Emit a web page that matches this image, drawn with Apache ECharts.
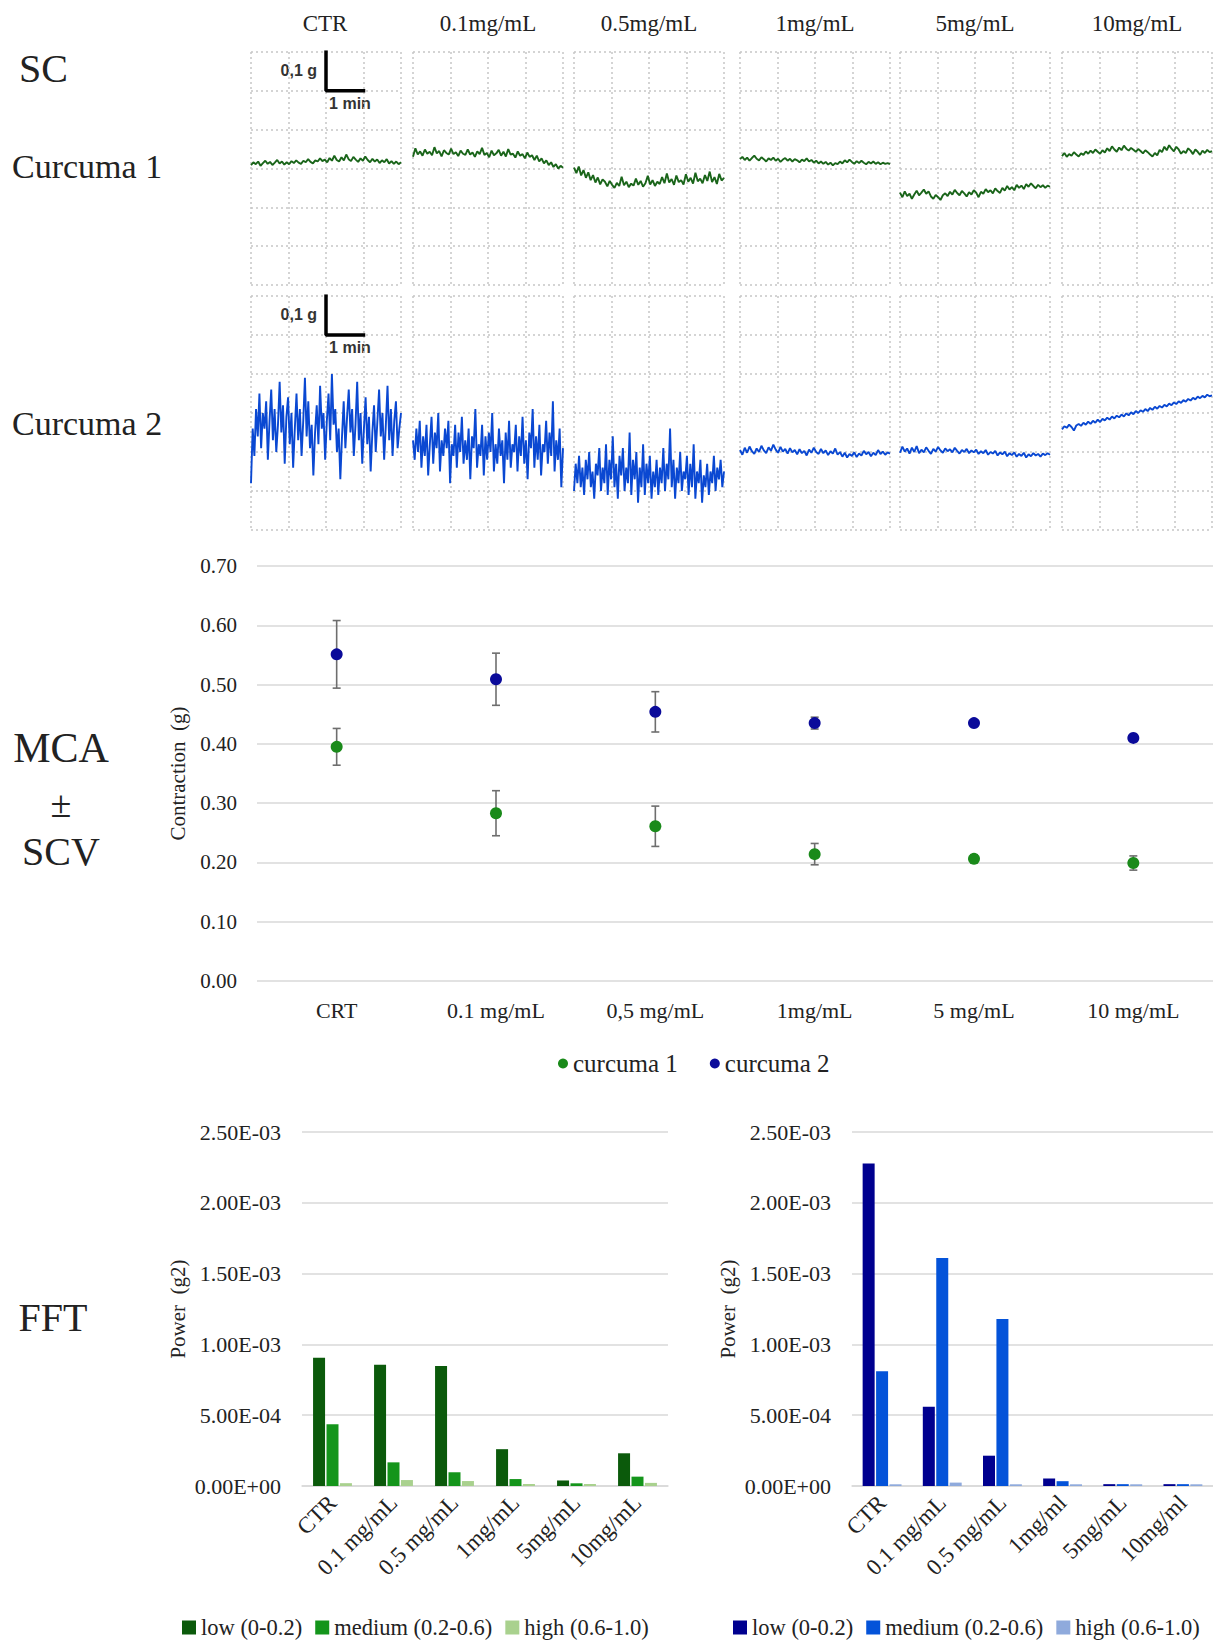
<!DOCTYPE html>
<html>
<head>
<meta charset="utf-8">
<script src="https://cdn.jsdelivr.net/npm/echarts@6/dist/echarts.min.js"></script>
<style>
  html, body { margin: 0; padding: 0; background: #fff; }
  .layer { position: absolute; left: 0; top: 0; width: 1213px; height: 1641px; }
</style>
</head>
<body>
<div id="main" class="layer"></div>
<div id="fftLeft" class="layer"></div>
<div id="fftRight" class="layer"></div>
<script>
// ---- data ----
const doses = ['CTR', '0.1mg/mL', '0.5mg/mL', '1mg/mL', '5mg/mL', '10mg/mL']
const scatterCats = ['CRT', '0.1 mg/mL', '0,5 mg/mL', '1mg/mL', '5 mg/mL', '10 mg/mL']
const fftCatsLeft = ['CTR', '0.1 mg/mL', '0.5 mg/mL', '1mg/mL', '5mg/mL', '10mg/mL']
const fftCatsRight = ['CTR', '0.1 mg/mL', '0.5 mg/mL', '1mg/ml', '5mg/mL', '10mg/ml']
const bandNames = ['low (0-0.2)', 'medium (0.2-0.6)', 'high (0.6-1.0)']

// tension traces (g) over 4 min per dose, curcuma 1
const curcuma1Traces = [
  [0.309,0.316,0.311,0.318,0.307,0.314,0.320,0.312,0.317,0.309,0.315,0.322,0.313,0.318,0.310,0.316,0.311,0.319,0.314,0.321,0.315,0.312,0.320,0.316,0.324,0.317,0.313,0.321,0.318,0.326,0.319,0.323,0.316,0.327,0.320,0.333,0.322,0.318,0.329,0.321,0.336,0.324,0.319,0.330,0.323,0.317,0.326,0.320,0.331,0.322,0.316,0.325,0.318,0.323,0.314,0.321,0.316,0.324,0.313,0.319,0.312,0.318,0.311,0.316],
  [0.330,0.352,0.336,0.344,0.333,0.349,0.338,0.343,0.334,0.355,0.339,0.345,0.331,0.347,0.340,0.336,0.351,0.337,0.342,0.332,0.346,0.338,0.335,0.349,0.336,0.341,0.330,0.344,0.337,0.353,0.335,0.340,0.329,0.346,0.334,0.339,0.348,0.333,0.343,0.331,0.350,0.336,0.338,0.328,0.344,0.333,0.337,0.326,0.341,0.330,0.334,0.322,0.333,0.318,0.326,0.313,0.321,0.309,0.316,0.304,0.311,0.300,0.307,0.302],
  [0.302,0.288,0.305,0.282,0.296,0.276,0.290,0.270,0.283,0.264,0.277,0.259,0.272,0.266,0.254,0.268,0.258,0.250,0.263,0.255,0.279,0.257,0.266,0.252,0.261,0.256,0.274,0.258,0.268,0.253,0.262,0.281,0.259,0.270,0.255,0.266,0.260,0.278,0.262,0.287,0.264,0.273,0.258,0.282,0.265,0.270,0.259,0.285,0.266,0.276,0.261,0.289,0.267,0.274,0.262,0.283,0.268,0.292,0.265,0.278,0.260,0.286,0.269,0.276],
  [0.324,0.330,0.322,0.328,0.320,0.327,0.333,0.325,0.321,0.329,0.324,0.318,0.326,0.322,0.328,0.320,0.325,0.317,0.323,0.327,0.320,0.325,0.318,0.324,0.321,0.316,0.323,0.319,0.326,0.318,0.322,0.315,0.320,0.313,0.318,0.312,0.317,0.310,0.315,0.308,0.314,0.311,0.318,0.313,0.321,0.316,0.323,0.317,0.312,0.319,0.314,0.320,0.315,0.311,0.317,0.313,0.318,0.312,0.316,0.311,0.315,0.312,0.314,0.311],
  [0.238,0.226,0.241,0.229,0.235,0.222,0.233,0.243,0.231,0.238,0.246,0.235,0.241,0.228,0.222,0.232,0.226,0.219,0.231,0.236,0.229,0.240,0.233,0.245,0.237,0.231,0.242,0.236,0.228,0.239,0.233,0.244,0.238,0.226,0.240,0.235,0.247,0.239,0.244,0.236,0.249,0.242,0.237,0.250,0.243,0.255,0.246,0.252,0.244,0.258,0.250,0.256,0.247,0.260,0.253,0.262,0.255,0.249,0.258,0.252,0.257,0.250,0.256,0.253],
  [0.332,0.340,0.330,0.337,0.333,0.342,0.336,0.331,0.339,0.335,0.344,0.338,0.346,0.340,0.349,0.343,0.338,0.347,0.341,0.352,0.345,0.357,0.349,0.343,0.354,0.347,0.359,0.351,0.346,0.353,0.348,0.343,0.350,0.345,0.339,0.347,0.342,0.336,0.331,0.340,0.334,0.348,0.342,0.356,0.347,0.360,0.351,0.344,0.356,0.349,0.338,0.345,0.340,0.352,0.346,0.337,0.349,0.343,0.335,0.346,0.340,0.348,0.342,0.345]
]
// curcuma 2
const curcuma2Traces = [
  [0.12,0.26,0.19,0.31,0.24,0.35,0.21,0.30,0.26,0.33,0.18,0.28,0.36,0.23,0.31,0.20,0.27,0.38,0.25,0.32,0.17,0.29,0.34,0.22,0.30,0.16,0.26,0.35,0.23,0.31,0.19,0.28,0.39,0.24,0.33,0.21,0.27,0.14,0.25,0.32,0.22,0.37,0.26,0.30,0.18,0.28,0.35,0.23,0.40,0.27,0.31,0.20,0.26,0.13,0.24,0.33,0.21,0.29,0.36,0.25,0.31,0.19,0.27,0.38,0.23,0.30,0.17,0.26,0.34,0.22,0.29,0.15,0.25,0.32,0.20,0.28,0.36,0.24,0.30,0.18,0.27,0.37,0.23,0.31,0.19,0.28,0.33,0.21,0.26,0.30],
  [0.23,0.18,0.26,0.20,0.28,0.16,0.24,0.19,0.27,0.14,0.22,0.29,0.17,0.25,0.21,0.30,0.15,0.23,0.19,0.26,0.21,0.28,0.12,0.22,0.19,0.27,0.16,0.25,0.20,0.29,0.17,0.23,0.18,0.26,0.13,0.24,0.21,0.31,0.16,0.22,0.19,0.27,0.14,0.24,0.18,0.25,0.20,0.30,0.15,0.22,0.17,0.26,0.19,0.23,0.12,0.25,0.18,0.28,0.16,0.22,0.20,0.27,0.15,0.24,0.19,0.29,0.17,0.23,0.13,0.25,0.21,0.31,0.16,0.24,0.18,0.27,0.14,0.22,0.20,0.28,0.17,0.25,0.19,0.33,0.15,0.23,0.18,0.26,0.11,0.21],
  [0.10,0.17,0.12,0.19,0.11,0.16,0.09,0.18,0.13,0.20,0.11,0.15,0.08,0.17,0.14,0.21,0.10,0.16,0.12,0.22,0.09,0.18,0.13,0.24,0.11,0.17,0.08,0.19,0.14,0.21,0.10,0.16,0.12,0.25,0.09,0.18,0.13,0.20,0.07,0.16,0.11,0.22,0.09,0.17,0.12,0.19,0.08,0.15,0.11,0.18,0.09,0.16,0.12,0.21,0.10,0.17,0.13,0.26,0.11,0.18,0.08,0.16,0.12,0.20,0.10,0.15,0.13,0.19,0.09,0.17,0.11,0.22,0.08,0.15,0.12,0.18,0.07,0.14,0.11,0.17,0.09,0.15,0.12,0.19,0.10,0.16,0.13,0.18,0.11,0.15],
  [0.205,0.193,0.211,0.198,0.214,0.202,0.195,0.209,0.200,0.216,0.204,0.197,0.212,0.203,0.219,0.206,0.198,0.213,0.201,0.208,0.196,0.210,0.199,0.205,0.194,0.207,0.197,0.203,0.191,0.206,0.198,0.211,0.200,0.195,0.208,0.197,0.204,0.192,0.202,0.196,0.209,0.193,0.200,0.188,0.198,0.186,0.195,0.190,0.199,0.187,0.196,0.191,0.203,0.194,0.200,0.189,0.198,0.192,0.205,0.195,0.201,0.193,0.199,0.196],
  [0.198,0.214,0.201,0.209,0.196,0.211,0.200,0.215,0.197,0.206,0.199,0.212,0.203,0.195,0.208,0.201,0.213,0.204,0.198,0.209,0.202,0.207,0.199,0.211,0.203,0.196,0.205,0.200,0.208,0.197,0.204,0.199,0.206,0.195,0.202,0.197,0.205,0.193,0.200,0.196,0.203,0.191,0.199,0.194,0.201,0.189,0.197,0.192,0.199,0.188,0.195,0.190,0.198,0.186,0.194,0.189,0.197,0.191,0.195,0.188,0.196,0.192,0.197,0.193],
  [0.258,0.266,0.262,0.270,0.264,0.255,0.268,0.272,0.267,0.275,0.270,0.278,0.272,0.280,0.275,0.283,0.277,0.285,0.281,0.288,0.283,0.291,0.286,0.293,0.289,0.296,0.291,0.299,0.294,0.302,0.297,0.305,0.300,0.307,0.303,0.310,0.305,0.313,0.308,0.316,0.311,0.318,0.314,0.321,0.317,0.324,0.320,0.327,0.323,0.330,0.326,0.333,0.329,0.336,0.332,0.339,0.335,0.342,0.338,0.344,0.340,0.347,0.343,0.345]
]
const scaleBar = [[2, 0.6], [2, 0.5], [3, 0.5]]

// mean contraction amplitude ± SD
const curcuma1Mean = [0.395, 0.283, 0.261, 0.214, 0.206, 0.199]
const curcuma1Err = [0.031, 0.038, 0.034, 0.018, 0.007, 0.012]
const curcuma2Mean = [0.551, 0.509, 0.454, 0.435, 0.435, 0.410]
const curcuma2Err = [0.057, 0.044, 0.034, 0.010, 0.004, 0.002]

// FFT power (g2)
const fft1Low = [0.000905, 0.000856, 0.000847, 0.000260, 0.000039, 0.000231]
const fft1Med = [0.000436, 0.000167, 0.000097, 0.000049, 0.000019, 0.000066]
const fft1High = [0.000020, 0.000042, 0.000035, 0.000014, 0.000014, 0.000022]
const fft2Low = [0.002278, 0.000560, 0.000214, 0.000053, 0.000013, 0.000013]
const fft2Med = [0.000811, 0.001610, 0.001180, 0.000034, 0.000013, 0.000013]
const fft2High = [0.000012, 0.000024, 0.000012, 0.000012, 0.000012, 0.000012]

// ---- layout ----
const serif = 'Liberation Serif'
const ink = '#222'
const panelLeft = [251, 413, 574, 740, 900, 1062]
const panelW = 150
const rowTop = [52, 296]
const rowH = [233, 234]
const dotted = { show: true, lineStyle: { color: '#c6c6c6', width: 1.5, type: [2, 3] } }

const sci = (v) => {
  if (v === 0) return '0.00E+00'
  const e = Math.floor(Math.log10(v) + 1e-9)
  const m = v / Math.pow(10, e)
  return m.toFixed(2) + 'E' + (e < 0 ? '-' : '+') + String(Math.abs(e)).padStart(2, '0')
}

const text = (t, x, y, size, opts = {}) => ({
  type: 'text',
  style: Object.assign({
    text: t, x, y, fill: ink, fontSize: size, fontFamily: serif,
    textAlign: 'center', textVerticalAlign: 'middle', align: 'center', verticalAlign: 'middle'
  }, opts)
})

const initMain = () => {
  const chart = echarts.init(document.getElementById('main'), null, { renderer: 'svg' })
  const grids = [], xAxes = [], yAxes = [], series = []
  ;[curcuma1Traces, curcuma2Traces].forEach((rows, r) => {
    rows.forEach((vals, c) => {
      const idx = grids.length
      grids.push({ left: panelLeft[c], top: rowTop[r], width: panelW, height: rowH[r] })
      xAxes.push({ gridIndex: idx, type: 'value', min: 0, max: 4, interval: 1,
        axisLabel: { show: false }, axisTick: { show: false }, axisLine: { show: false }, splitLine: dotted })
      yAxes.push({ gridIndex: idx, type: 'value', min: 0, max: 0.6, interval: 0.1,
        axisLabel: { show: false }, axisTick: { show: false }, axisLine: { show: false }, splitLine: dotted })
      series.push({
        type: 'line', xAxisIndex: idx, yAxisIndex: idx, showSymbol: false, silent: true,
        data: vals.map((v, i) => [i * 4 / (vals.length - 1), v]),
        lineStyle: { color: r === 0 ? '#1a651a' : '#0a48d2', width: r === 0 ? 1.9 : 1.9 }
      })
      if (c === 0) {
        series.push({
          type: 'line', xAxisIndex: idx, yAxisIndex: idx, showSymbol: false, silent: true, z: 5,
          data: scaleBar, lineStyle: { color: '#000', width: 3.5, cap: 'square' }
        })
      }
    })
  })

  // contraction scatter
  const g = grids.length
  grids.push({ left: 257, top: 566, width: 958, height: 415 })
  xAxes.push({ gridIndex: g, type: 'category', data: scatterCats,
    axisLine: { show: false }, axisTick: { show: false },
    axisLabel: { fontFamily: serif, fontSize: 22, color: ink, margin: 18 } })
  yAxes.push({ gridIndex: g, type: 'value', min: 0, max: 0.7, interval: 0.1,
    name: 'Contraction  (g)', nameLocation: 'middle', nameGap: 69,
    nameTextStyle: { fontFamily: serif, fontSize: 21, color: ink },
    axisLabel: { formatter: (v) => v.toFixed(2), fontFamily: serif, fontSize: 21, color: ink, margin: 20 },
    splitLine: { lineStyle: { color: '#d9d9d9', width: 1.5 } } })

  const errorBars = (means, errs) => ({
    type: 'custom', xAxisIndex: g, yAxisIndex: g, z: 2, silent: true,
    data: means.map((m, i) => [i, m - errs[i], m + errs[i]]),
    renderItem: (params, api) => {
      const lo = api.coord([api.value(0), api.value(1)])
      const hi = api.coord([api.value(0), api.value(2)])
      const st = { stroke: '#6e6e6e', lineWidth: 1.6 }
      const w = 4
      return { type: 'group', children: [
        { type: 'line', shape: { x1: lo[0], y1: lo[1], x2: hi[0], y2: hi[1] }, style: st },
        { type: 'line', shape: { x1: lo[0] - w, y1: lo[1], x2: lo[0] + w, y2: lo[1] }, style: st },
        { type: 'line', shape: { x1: hi[0] - w, y1: hi[1], x2: hi[0] + w, y2: hi[1] }, style: st }
      ] }
    }
  })
  series.push(errorBars(curcuma1Mean, curcuma1Err), errorBars(curcuma2Mean, curcuma2Err))
  series.push({ name: 'curcuma 1', type: 'scatter', xAxisIndex: g, yAxisIndex: g, z: 3,
    symbolSize: 12, itemStyle: { color: '#1a8a1a', opacity: 1 }, data: curcuma1Mean })
  series.push({ name: 'curcuma 2', type: 'scatter', xAxisIndex: g, yAxisIndex: g, z: 3,
    symbolSize: 12, itemStyle: { color: '#0b0b9a', opacity: 1 }, data: curcuma2Mean })

  const graphic = [
    text('SC', 19, 68, 40, { textAlign: 'left', align: 'left' }),
    text('Curcuma 1', 12, 166, 34, { textAlign: 'left', align: 'left' }),
    text('Curcuma 2', 12, 423, 34, { textAlign: 'left', align: 'left' }),
    text('MCA', 61, 748, 42),
    text('±', 61, 804, 38),
    text('SCV', 61, 851, 40),
    text('FFT', 53, 1317, 40)
  ]
  doses.forEach((d, i) => graphic.push(text(d, panelLeft[i] + panelW / 2 - (i === 0 ? 1 : 0), 23, 23)))
  rowTop.forEach((t) => {
    graphic.push(text('0,1 g', 317, t + 18, 16, { fontFamily: 'Liberation Sans', fontWeight: 'bold', fill: '#333', textAlign: 'right', align: 'right' }))
    graphic.push(text('1 min', 350, t + 51, 16, { fontFamily: 'Liberation Sans', fontWeight: 'bold', fill: '#333' }))
  })

  chart.setOption({
    animation: false,
    grid: grids, xAxis: xAxes, yAxis: yAxes, series,
    legend: { data: ['curcuma 1', 'curcuma 2'], icon: 'circle', itemWidth: 10, itemHeight: 10,
      left: 553, top: 1046, itemGap: 32, textStyle: { fontFamily: serif, fontSize: 25, color: ink } },
    graphic
  })
}

const initFft = (el, left, width, cats, low, med, high, colors, legendLeft) => {
  const chart = echarts.init(document.getElementById(el), null, { renderer: 'svg' })
  const vals = [low, med, high]
  chart.setOption({
    animation: false,
    color: colors,
    grid: { left, top: 1132, width, height: 354 },
    legend: { data: bandNames, icon: 'rect', itemWidth: 14, itemHeight: 14, itemGap: 13,
      left: legendLeft, top: 1611, width: 500, textStyle: { fontFamily: serif, fontSize: 22.5, color: ink } },
    xAxis: { type: 'category', data: cats,
      axisLine: { lineStyle: { color: '#d9d9d9', width: 1.5 } }, axisTick: { show: false },
      axisLabel: { rotate: 45, interval: 0, margin: 13, fontFamily: serif, fontSize: 23, color: ink } },
    yAxis: { type: 'value', min: 0, max: 0.0025, interval: 0.0005,
      name: 'Power  (g2)', nameLocation: 'middle', nameGap: 114,
      nameTextStyle: { fontFamily: serif, fontSize: 21, color: ink },
      axisLabel: { formatter: sci, fontFamily: serif, fontSize: 22, color: ink, margin: 21 },
      splitLine: { lineStyle: { color: '#d9d9d9', width: 1.5 } } },
    series: bandNames.map((n, i) => ({ name: n, type: 'bar', barWidth: 12, barGap: '12%', data: vals[i] }))
  })
}

initMain()
initFft('fftLeft', 302, 366, fftCatsLeft, fft1Low, fft1Med, fft1High, ['#0b5a0b', '#14951b', '#a9d18e'], 177)
initFft('fftRight', 852, 361, fftCatsRight, fft2Low, fft2Med, fft2High, ['#00008f', '#0453d9', '#8faadc'], 728)
</script>
</body>
</html>
